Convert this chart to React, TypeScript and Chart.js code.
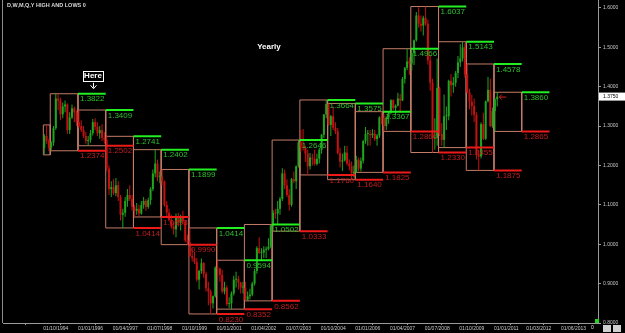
import { useEffect, useRef } from 'react';
import { Chart, registerables } from 'chart.js';

Chart.register(...registerables);

// months counted from Jan 1994 (0 = Jan 1994)
const firstMonth = 9; // Oct 1994
const firstOpen = 1.245;

const monthHighs = [
  1.280, 1.303, 1.268,
  1.262, 1.300, 1.3822, 1.380, 1.372, 1.360, 1.365, 1.358, 1.335, 1.355, 1.350, 1.340,
  1.3409, 1.315, 1.300, 1.285, 1.275, 1.290, 1.318, 1.320, 1.310, 1.300, 1.305, 1.285,
  1.2741, 1.200, 1.160, 1.165, 1.168, 1.160, 1.125, 1.090, 1.120, 1.140, 1.150, 1.125,
  1.100, 1.105, 1.100, 1.110, 1.120, 1.115, 1.118, 1.145, 1.190, 1.2402, 1.215, 1.185,
  1.1899, 1.162, 1.110, 1.090, 1.075, 1.055, 1.078, 1.080, 1.075, 1.085, 1.062, 1.025,
  1.0414, 0.990, 0.980, 0.965, 0.935, 0.964, 0.955, 0.930, 0.905, 0.885, 0.870, 0.944,
  0.9594, 0.940, 0.935, 0.905, 0.895, 0.865, 0.880, 0.920, 0.930, 0.920, 0.905, 0.905,
  0.905, 0.880, 0.887, 0.905, 0.938, 0.995, 1.018, 0.990, 0.995, 0.994, 1.015, 1.0502,
  1.087, 1.090, 1.110, 1.120, 1.193, 1.190, 1.165, 1.140, 1.168, 1.185, 1.200, 1.2646,
  1.290, 1.293, 1.250, 1.240, 1.232, 1.230, 1.240, 1.230, 1.245, 1.280, 1.330, 1.3664,
  1.3575, 1.328, 1.350, 1.310, 1.295, 1.245, 1.230, 1.250, 1.250, 1.215, 1.210, 1.200,
  1.225, 1.220, 1.220, 1.265, 1.298, 1.290, 1.290, 1.292, 1.290, 1.280, 1.325, 1.3367,
  1.330, 1.325, 1.337, 1.368, 1.368, 1.355, 1.385, 1.382, 1.425, 1.450, 1.4966, 1.475,
  1.493, 1.520, 1.590, 1.602, 1.581, 1.580, 1.6037, 1.570, 1.480, 1.420, 1.320, 1.472,
  1.400, 1.308, 1.380, 1.350, 1.418, 1.432, 1.425, 1.440, 1.478, 1.508, 1.5143, 1.510,
  1.4578, 1.395, 1.380, 1.370, 1.335, 1.240, 1.310, 1.334, 1.365, 1.425, 1.420, 1.347,
  1.372, 1.3860,
];

const monthLows = [
  1.227, 1.255, 1.236,
  1.2374, 1.250, 1.290, 1.340, 1.315, 1.320, 1.335, 1.280, 1.280, 1.318, 1.310, 1.300,
  1.295, 1.285, 1.270, 1.255, 1.2502, 1.258, 1.276, 1.290, 1.275, 1.268, 1.262, 1.255,
  1.185, 1.125, 1.120, 1.125, 1.122, 1.110, 1.060, 1.0414, 1.070, 1.095, 1.110, 1.085,
  1.0693, 1.075, 1.072, 1.075, 1.090, 1.085, 1.090, 1.100, 1.135, 1.170, 1.160, 1.155,
  1.150, 1.095, 1.070, 1.058, 1.040, 1.025, 1.018, 1.045, 1.035, 1.050, 1.005, 0.9990,
  0.968, 0.956, 0.950, 0.905, 0.885, 0.925, 0.915, 0.880, 0.845, 0.8230, 0.837, 0.865,
  0.915, 0.905, 0.875, 0.873, 0.843, 0.838, 0.8352, 0.870, 0.890, 0.885, 0.875, 0.875,
  0.8562, 0.857, 0.860, 0.868, 0.895, 0.925, 0.975, 0.960, 0.965, 0.965, 0.985, 0.990,
  1.0333, 1.065, 1.050, 1.075, 1.110, 1.140, 1.120, 1.085, 1.095, 1.155, 1.140, 1.195,
  1.235, 1.238, 1.209, 1.1760, 1.190, 1.200, 1.200, 1.200, 1.205, 1.230, 1.270, 1.320,
  1.300, 1.275, 1.290, 1.280, 1.228, 1.195, 1.186, 1.210, 1.200, 1.187, 1.1640, 1.170,
  1.1825, 1.185, 1.185, 1.205, 1.255, 1.250, 1.250, 1.270, 1.262, 1.250, 1.270, 1.305,
  1.2866, 1.290, 1.306, 1.330, 1.340, 1.328, 1.350, 1.337, 1.364, 1.408, 1.442, 1.430,
  1.441, 1.455, 1.515, 1.550, 1.540, 1.530, 1.555, 1.456, 1.390, 1.2330, 1.240, 1.250,
  1.275, 1.250, 1.2455, 1.290, 1.315, 1.375, 1.385, 1.400, 1.422, 1.450, 1.464, 1.423,
  1.383, 1.343, 1.327, 1.310, 1.215, 1.1875, 1.218, 1.265, 1.265, 1.360, 1.298, 1.296,
  1.2865, 1.350,
];

const monthCloses = [
  1.275, 1.262, 1.245,
  1.258, 1.295, 1.370, 1.365, 1.330, 1.350, 1.355, 1.290, 1.322, 1.345, 1.335, 1.310,
  1.300, 1.290, 1.275, 1.262, 1.265, 1.282, 1.310, 1.298, 1.282, 1.290, 1.270, 1.265,
  1.192, 1.140, 1.145, 1.130, 1.150, 1.120, 1.075, 1.080, 1.110, 1.125, 1.115, 1.095,
  1.085, 1.090, 1.078, 1.100, 1.110, 1.095, 1.112, 1.140, 1.180, 1.205, 1.170, 1.172,
  1.160, 1.100, 1.080, 1.062, 1.045, 1.038, 1.070, 1.055, 1.068, 1.058, 1.010, 1.005,
  0.970, 0.965, 0.955, 0.910, 0.932, 0.952, 0.925, 0.888, 0.880, 0.850, 0.868, 0.940,
  0.938, 0.922, 0.880, 0.890, 0.848, 0.850, 0.875, 0.910, 0.912, 0.903, 0.890, 0.890,
  0.859, 0.868, 0.872, 0.900, 0.932, 0.990, 0.978, 0.979, 0.986, 0.988, 0.994, 1.048,
  1.080, 1.078, 1.090, 1.115, 1.180, 1.150, 1.125, 1.100, 1.165, 1.160, 1.198, 1.259,
  1.246, 1.245, 1.230, 1.198, 1.220, 1.217, 1.204, 1.217, 1.240, 1.278, 1.330, 1.356,
  1.303, 1.325, 1.296, 1.287, 1.232, 1.210, 1.213, 1.233, 1.205, 1.198, 1.180, 1.184,
  1.215, 1.192, 1.212, 1.262, 1.280, 1.280, 1.277, 1.281, 1.267, 1.276, 1.322, 1.320,
  1.300, 1.322, 1.335, 1.366, 1.346, 1.352, 1.370, 1.365, 1.420, 1.448, 1.464, 1.459,
  1.485, 1.518, 1.581, 1.560, 1.555, 1.575, 1.560, 1.467, 1.410, 1.270, 1.270, 1.397,
  1.280, 1.265, 1.325, 1.325, 1.415, 1.404, 1.410, 1.435, 1.462, 1.472, 1.500, 1.432,
  1.386, 1.362, 1.351, 1.329, 1.227, 1.223, 1.305, 1.268, 1.363, 1.392, 1.300, 1.338,
  1.368, 1.375,
];

const boxYears = [1994, 1995, 1996, 1997, 1998, 1999, 2000, 2001, 2002, 2003, 2004, 2005, 2006, 2007, 2008, 2009, 2010, 2011];
const boxHighs = [1.3030, 1.3822, 1.3409, 1.2741, 1.2402, 1.1899, 1.0414, 0.9594, 1.0502, 1.2646, 1.3664, 1.3575, 1.3367, 1.4966, 1.6037, 1.5143, 1.4578, 1.3860];
const boxLows = [1.2270, 1.2374, 1.2502, 1.0414, 1.0693, 0.9990, 0.8230, 0.8352, 0.8562, 1.0333, 1.1760, 1.1640, 1.1825, 1.2866, 1.2330, 1.2455, 1.1875, 1.2865];

const xTickMonths = [9, 24, 39, 54, 69, 84, 99, 114, 129, 144, 159, 174, 189, 204, 218, 233];
const xTickLabels = ['01/10/1994', '01/01/1996', '01/04/1997', '01/07/1998', '01/10/1999', '01/01/2001', '01/04/2002', '01/07/2003', '01/10/2004', '01/01/2006', '01/04/2007', '01/07/2008', '01/10/2009', '01/01/2011', '01/03/2012', '01/06/2013'];
const yTickValues = [0.8, 0.9, 1.0, 1.1, 1.2, 1.3, 1.4, 1.5, 1.6];

const chartTitle = 'D,W,M,Q,Y HIGH AND LOWS 0';
const periodLabel = 'Yearly';
const noteLabel = 'Here';
const noteMonth = 30.5;
const notePrice = 1.428;

const BASE_YEAR = 1994;
const FONT = '"Liberation Sans", Arial, sans-serif';

export default function App() {
  const ref = useRef<HTMLCanvasElement>(null);

  useEffect(() => {
    document.body.style.margin = '0';
    document.body.style.background = '#000';
    const canvas = ref.current;
    if (!canvas) return;

    const opens = monthCloses.map((c, i) => (i === 0 ? firstOpen : monthCloses[i - 1]));
    const xs = monthCloses.map((_, i) => firstMonth + i + 0.4);
    const colors = monthCloses.map((c, i) => (c >= opens[i] ? '#1fa51f' : '#c41212'));
    const wickData = xs.map((x, i) => ({ x, y: [monthLows[i], monthHighs[i]] }));
    const bodyData = xs.map((x, i) => ({ x, y: [opens[i], monthCloses[i]] }));

    const boxStart = (yr: number) => Math.max(firstMonth, (yr - BASE_YEAR) * 12);
    const boxEnd = (yr: number) => (yr - BASE_YEAR + 1) * 12;

    const boxPts: any[] = [];
    const greenPts: any[] = [];
    const redPts: any[] = [];
    boxYears.forEach((yr, i) => {
      const x0 = boxStart(yr);
      const x1 = boxEnd(yr);
      const h = boxHighs[i];
      const l = boxLows[i];
      boxPts.push({ x: x0, y: l }, { x: x0, y: h }, { x: x1, y: h }, { x: x1, y: l }, { x: x0, y: l }, { x: x0, y: null });
      if (i > 0) {
        greenPts.push({ x: x1, y: h }, { x: x1 + 12, y: h }, { x: x1 + 12, y: null });
        redPts.push({ x: x1, y: l }, { x: x1 + 12, y: l }, { x: x1 + 12, y: null });
      }
    });

    const overlay = {
      id: 'overlay',
      beforeDraw(chart: any) {
        const ctx = chart.ctx;
        ctx.save();
        ctx.fillStyle = '#000';
        ctx.fillRect(0, 0, chart.width, chart.height);
        ctx.restore();
      },
      afterDraw(chart: any) {
        const { ctx, chartArea } = chart;
        const xs_ = chart.scales.x;
        const ys_ = chart.scales.y;
        ctx.save();
        ctx.strokeStyle = '#8c8c8c';
        ctx.lineWidth = 1;
        ctx.beginPath();
        ctx.moveTo(chartArea.left - 0.5, chartArea.top);
        ctx.lineTo(chartArea.left - 0.5, chartArea.bottom);
        ctx.stroke();

        ctx.font = `8px ${FONT}`;
        ctx.textBaseline = 'top';
        ctx.textAlign = 'left';
        boxYears.forEach((yr, i) => {
          if (i === 0) return;
          const px = xs_.getPixelForValue(boxEnd(yr)) + 2;
          ctx.fillStyle = '#2cc02c';
          ctx.fillText(boxHighs[i].toFixed(4), px, ys_.getPixelForValue(boxHighs[i]) + 1.5);
          ctx.fillStyle = '#c21e1e';
          ctx.fillText(boxLows[i].toFixed(4), px, ys_.getPixelForValue(boxLows[i]) + 1.5);
        });

        ctx.fillStyle = '#d8d8d8';
        ctx.font = `bold 5.5px ${FONT}`;
        ctx.fillText(chartTitle, 7, 3);

        ctx.fillStyle = '#ffffff';
        ctx.font = `bold 8px ${FONT}`;
        ctx.textAlign = 'center';
        ctx.fillText(periodLabel, 269, 43);

        const nx = xs_.getPixelForValue(noteMonth);
        const ny = ys_.getPixelForValue(notePrice);
        ctx.font = `bold 8px ${FONT}`;
        ctx.fillStyle = '#ffffff';
        ctx.fillText(noteLabel, nx, ny - 4);
        ctx.strokeStyle = '#ffffff';
        ctx.strokeRect(Math.round(nx - 10) + 0.5, Math.round(ny - 5) + 0.5, 20, 10);
        ctx.beginPath();
        ctx.moveTo(Math.round(nx) + 0.5, ny + 7);
        ctx.lineTo(Math.round(nx) + 0.5, ny + 12);
        ctx.stroke();
        ctx.beginPath();
        ctx.moveTo(nx - 2.5, ny + 9.5);
        ctx.lineTo(nx + 0.5, ny + 13);
        ctx.lineTo(nx + 3.5, ny + 9.5);
        ctx.stroke();

        const last = monthCloses[monthCloses.length - 1];
        const py = ys_.getPixelForValue(last);
        const ax = xs_.getPixelForValue(firstMonth + monthCloses.length - 1) + 3;
        ctx.strokeStyle = '#d02020';
        ctx.beginPath();
        ctx.moveTo(ax, py + 0.5);
        ctx.lineTo(ax + 7, py + 0.5);
        ctx.moveTo(ax + 2.5, py - 2);
        ctx.lineTo(ax, py + 0.5);
        ctx.lineTo(ax + 2.5, py + 3);
        ctx.stroke();

        ctx.fillStyle = '#ffffff';
        ctx.fillRect(chartArea.right + 1, py - 4, 26, 8);
        ctx.fillStyle = '#000000';
        ctx.font = `5px ${FONT}`;
        ctx.textAlign = 'left';
        ctx.textBaseline = 'middle';
        ctx.fillText(last.toFixed(4), chartArea.right + 5, py);

        ctx.fillStyle = '#22d022';
        ctx.fillRect(chartArea.right - 3, chartArea.bottom - 4, 4, 4);
        ctx.fillStyle = '#e0e0e0';
        ctx.font = `5px ${FONT}`;
        ctx.fillText('0', chartArea.right - 7, chartArea.bottom + 5);
        ctx.fillStyle = '#d0d0d0';
        ctx.fillRect(chartArea.right + 5, chartArea.bottom + 2, 8, 7);
        ctx.fillRect(chartArea.right + 15, chartArea.bottom + 2, 8, 7);
        ctx.restore();
      },
    };

    const chart = new Chart(canvas, {
      type: 'bar',
      data: {
        datasets: [
          {
            type: 'line',
            data: greenPts,
            borderColor: '#22ee22',
            borderWidth: 2,
            pointRadius: 0,
            spanGaps: false,
            fill: false,
          },
          {
            type: 'line',
            data: redPts,
            borderColor: '#ee1a1a',
            borderWidth: 2,
            pointRadius: 0,
            spanGaps: false,
            fill: false,
          },
          {
            type: 'bar',
            data: bodyData as any,
            backgroundColor: colors,
            barThickness: 2,
            grouped: false,
            minBarLength: 1,
            inflateAmount: 0,
          },
          {
            type: 'bar',
            data: wickData as any,
            backgroundColor: colors,
            barThickness: 1,
            grouped: false,
            inflateAmount: 0,
          },
          {
            type: 'line',
            data: boxPts,
            borderColor: '#c47c68',
            borderWidth: 1,
            pointRadius: 0,
            spanGaps: false,
            fill: false,
          },
        ] as any,
      },
      options: {
        responsive: false,
        devicePixelRatio: 1,
        animation: false,
        events: [],
        layout: { padding: { left: 3, right: 0, top: 0, bottom: 0 } },
        plugins: { legend: { display: false }, tooltip: { enabled: false } },
        scales: {
          x: {
            type: 'linear',
            min: -8.45,
            max: 249,
            offset: false,
            afterBuildTicks: (s: any) => {
              s.ticks = xTickMonths.map((v) => ({ value: v }));
            },
            afterFit: (s: any) => {
              s.height = 10;
              s.paddingLeft = 0;
              s.paddingRight = 0;
            },
            ticks: {
              autoSkip: false,
              maxRotation: 0,
              minRotation: 0,
              align: 'start',
              padding: 1,
              color: '#c8c8c8',
              font: { size: 5, family: FONT },
              callback: (_v: any, i: number) => xTickLabels[i],
            },
            grid: { drawOnChartArea: false, color: '#9a9a9a', tickLength: 2 },
            border: { color: '#9a9a9a' },
          },
          y: {
            type: 'linear',
            position: 'right',
            min: 0.8,
            max: 1.6203,
            afterBuildTicks: (s: any) => {
              s.ticks = yTickValues.map((v) => ({ value: v }));
            },
            afterFit: (s: any) => {
              s.width = 27;
              s.paddingTop = 0;
              s.paddingBottom = 0;
            },
            ticks: {
              padding: 2,
              color: '#c8c8c8',
              font: { size: 5, family: FONT },
              callback: (v: any) => Number(v).toFixed(4),
            },
            grid: { drawOnChartArea: false, color: '#9a9a9a', tickLength: 3 },
            border: { color: '#9a9a9a' },
          },
        },
      } as any,
      plugins: [overlay],
    });

    return () => chart.destroy();
  }, []);

  return <canvas ref={ref} width={625} height={333} style={{ display: 'block', width: 625, height: 333 }} />;
}
